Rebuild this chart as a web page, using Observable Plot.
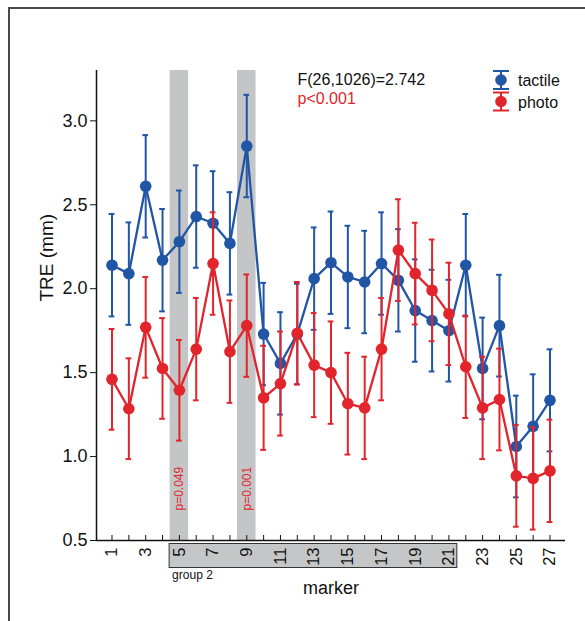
<!DOCTYPE html>
<html><head><meta charset="utf-8">
<script src="https://cdn.jsdelivr.net/npm/d3@7"></script>
<script src="https://cdn.jsdelivr.net/npm/@observablehq/plot@0.6"></script>
<style>
html,body{margin:0;padding:0;background:#fff;}
#wrap{position:relative;width:585px;height:621px;overflow:hidden;background:#fff;}
#border{position:absolute;left:8px;top:7px;width:700px;height:700px;border-left:2px solid #4a4a4a;border-top:2px solid #4a4a4a;}
#chart{position:absolute;left:0;top:0;}
</style></head><body><div id="wrap"><div id="border"></div><div id="chart"></div></div>
<script>
// ---- data ----
const markers = [1,2,3,4,5,6,7,8,9,10,11,12,13,14,15,16,17,18,19,20,21,22,23,24,25,26,27];
const markerLabels = [1,3,5,7,9,11,13,15,17,19,21,23,25,27];
const tactileMean = [2.14,2.09,2.61,2.17,2.28,2.43,2.39,2.27,2.85,1.73,1.555,1.73,2.06,2.155,2.07,2.04,2.15,2.05,1.87,1.81,1.75,2.14,1.525,1.78,1.06,1.18,1.335];
const tactileErr  = [0.305,0.305,0.305,0.305,0.305,0.305,0.31,0.305,0.305,0.305,0.305,0.30,0.305,0.305,0.305,0.305,0.305,0.305,0.305,0.303,0.303,0.305,0.303,0.303,0.303,0.31,0.304];
const photoMean   = [1.46,1.285,1.77,1.525,1.395,1.64,2.15,1.625,1.78,1.35,1.435,1.735,1.545,1.50,1.315,1.29,1.64,2.23,2.09,1.99,1.85,1.535,1.29,1.34,0.885,0.87,0.915];
const photoErr    = [0.30,0.30,0.30,0.30,0.30,0.305,0.305,0.305,0.305,0.31,0.31,0.305,0.31,0.305,0.303,0.305,0.305,0.303,0.303,0.303,0.305,0.305,0.305,0.303,0.303,0.305,0.305];
const seriesNames = ["tactile","photo"];
const seriesColors = ["#2155a5","#e2252c"];
const sigMarkers = [5, 9];
const sigLabels = ["p=0.049","p=0.001"];
const yTicks = [0.5,1.0,1.5,2.0,2.5,3.0];
const statText = "F(26,1026)=2.742";
const statP = "p<0.001";
const groupLabel = "group 2";
const groupRange = [4.42, 21.5];
const xDomain = [0.08, 27.92];
const yDomain = [0.5, 3.3];

// ---- build tables ----
const means = [tactileMean, photoMean];
const errs = [tactileErr, photoErr];
const rows = [];
seriesNames.forEach((s, si) => markers.forEach((m, i) => rows.push({
  series: s, m, mean: means[si][i], lo: means[si][i] - errs[si][i], hi: means[si][i] + errs[si][i]
})));
const bands = sigMarkers.map((m, i) => ({m, label: sigLabels[i]}));
const bandHalf = 0.55, capHalf = 0.17;
const red = seriesColors[1];
const FONT = "'Liberation Sans', Arial, sans-serif";

const seriesMarks = seriesNames.flatMap((s, si) => {
  const d = rows.filter(r => r.series === s);
  const c = seriesColors[si];
  return [
    Plot.ruleX(d, {x: "m", y1: "lo", y2: "hi", stroke: c, strokeWidth: 2}),
    Plot.ruleY(d, {y: "hi", x1: r => r.m - capHalf, x2: r => r.m + capHalf, stroke: c, strokeWidth: 2}),
    Plot.ruleY(d, {y: "lo", x1: r => r.m - capHalf, x2: r => r.m + capHalf, stroke: c, strokeWidth: 2}),
    Plot.line(d, {x: "m", y: "mean", stroke: c, strokeWidth: 2.3}),
    Plot.dot(d, {x: "m", y: "mean", r: 5.8, fill: c, stroke: "none"})
  ];
});

const plot = Plot.plot({
  width: 585, height: 621,
  marginLeft: 96, marginRight: 20, marginTop: 70, marginBottom: 81,
  style: {fontFamily: FONT, background: "transparent", color: "#111"},
  x: {type: "linear", domain: xDomain},
  y: {domain: yDomain},
  marks: [
    Plot.rect(bands, {x1: d => d.m - bandHalf, x2: d => d.m + bandHalf, y1: yDomain[0], y2: yDomain[1], fill: "#c4c5c6"}),
    Plot.text(bands, {x: "m", y: yDomain[0], text: "label", rotate: -90, textAnchor: "start", lineAnchor: "middle", dy: -30, fill: red, fontSize: 12}),
    ...seriesMarks,
    Plot.ruleX([xDomain[0]], {stroke: "#111", strokeWidth: 1.5}),
    Plot.ruleY([yDomain[0]], {stroke: "#111", strokeWidth: 1.5}),
    Plot.axisY({ticks: yTicks, tickFormat: d3.format(".1f"), tickSize: 6, tickPadding: 3, fontSize: 18, label: null}),
    Plot.axisX({ticks: markers, tickSize: 5, dy: -5, tickFormat: () => "", label: null}),
    Plot.axisX({ticks: markerLabels, tickSize: 0, tickPadding: 7, tickRotate: -90, fontSize: 16.5, label: null}),
    Plot.text(["TRE (mm)"], {frameAnchor: "left", dx: -50, dy: -4, rotate: -90, fontSize: 19}),
    Plot.text(["marker"], {frameAnchor: "bottom", dy: 53, fontSize: 18}),
    Plot.text([statText], {frameAnchor: "top-left", dx: 201, dy: 9, lineAnchor: "middle", textAnchor: "start", fontSize: 16}),
    Plot.text([statP], {frameAnchor: "top-left", dx: 201, dy: 28, lineAnchor: "middle", textAnchor: "start", fontSize: 16, fill: red})
  ]
});
document.getElementById("chart").appendChild(plot);

// ---- group box below the axis, positioned with the x scale ----
const xs = plot.scale("x");
const svg = d3.select(plot);
const gx1 = xs.apply(groupRange[0]), gx2 = xs.apply(groupRange[1]);
const g = svg.insert("g", ":first-child");
g.append("rect").attr("x", gx1).attr("y", 543.5).attr("width", gx2 - gx1).attr("height", 24)
  .attr("fill", "#c5c6c7").attr("stroke", "#333").attr("stroke-width", 1);
svg.append("text").attr("x", gx1 + 3).attr("y", 579).attr("font-size", 12).attr("fill", "#111")
  .attr("text-anchor", "start").attr("font-family", FONT).text(groupLabel);

// ---- legend ----
const leg = svg.append("g").attr("font-family", FONT).attr("text-anchor", "start");
seriesNames.forEach((s, i) => {
  const cy = 80 + i * 21.5, cx = 501, c = seriesColors[i];
  const gg = leg.append("g");
  gg.append("line").attr("x1", cx).attr("x2", cx).attr("y1", cy - 9).attr("y2", cy + 9).attr("stroke", c).attr("stroke-width", 2);
  gg.append("line").attr("x1", cx - 8).attr("x2", cx + 8).attr("y1", cy - 9).attr("y2", cy - 9).attr("stroke", c).attr("stroke-width", 2);
  gg.append("line").attr("x1", cx - 8).attr("x2", cx + 8).attr("y1", cy + 9).attr("y2", cy + 9).attr("stroke", c).attr("stroke-width", 2);
  gg.append("circle").attr("cx", cx).attr("cy", cy).attr("r", 5.8).attr("fill", c);
  leg.append("text").attr("x", 518).attr("y", cy + 6).attr("font-size", 16).attr("fill", "#111").attr("text-anchor", "start").text(s);
});
</script></body></html>
